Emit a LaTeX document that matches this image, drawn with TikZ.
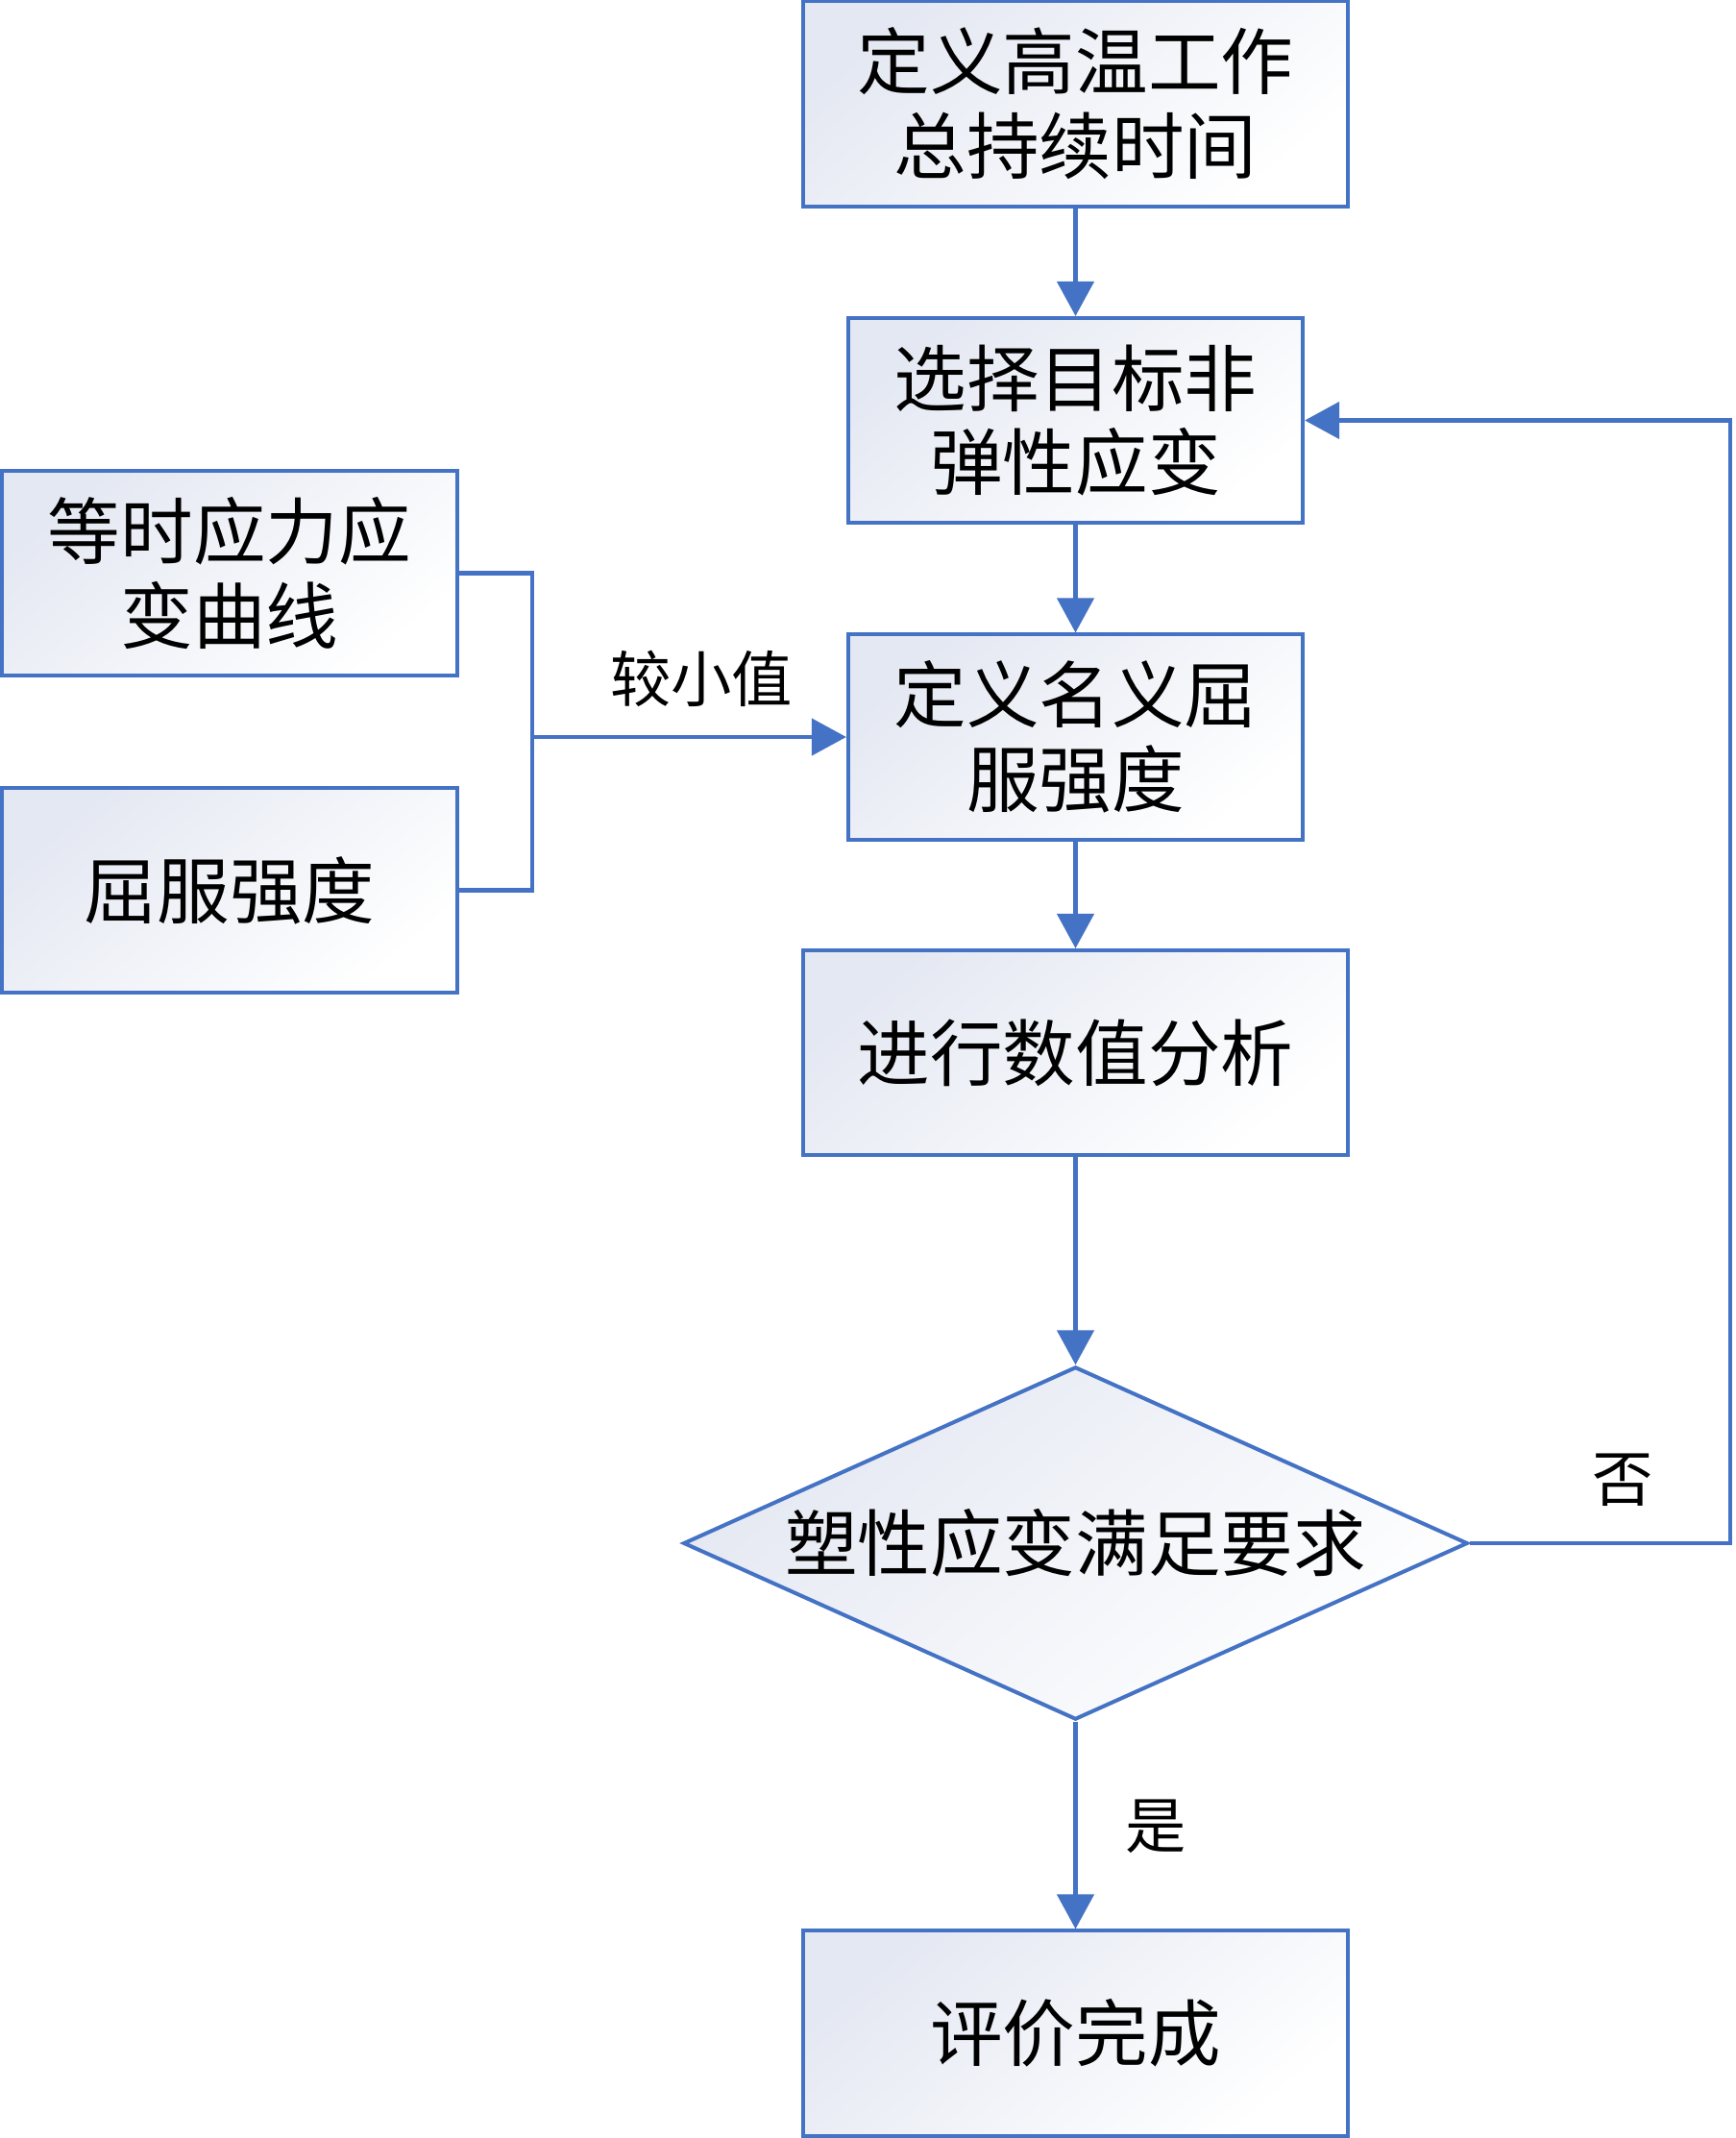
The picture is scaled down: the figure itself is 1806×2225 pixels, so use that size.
\documentclass[tikz,border=0pt]{standalone}
\usepackage{fontspec}
\setmainfont{Noto Sans CJK SC}
\usetikzlibrary{arrows.meta,shapes.geometric}
\definecolor{lineblue}{HTML}{4472C4}
\definecolor{boxgrad}{RGB}{228,232,242}
\tikzset{
  box/.style={draw=lineblue, line width=0.04cm, inner sep=0pt,
    top color=boxgrad, bottom color=white, shading angle=40,
    minimum height=2.13cm, align=center,
    font=\fontsize{21.5pt}{25pt}\selectfont},
  widebox/.style={box, minimum width=5.67cm},
  narrowbox/.style={box, minimum width=4.73cm},
  decision/.style={diamond, draw=lineblue, line width=0.04cm, inner sep=0pt,
    top color=boxgrad, bottom color=white, shading angle=40,
    aspect=2.22, minimum width=8.16cm, minimum height=3.67cm,
    font=\fontsize{21.5pt}{25pt}\selectfont},
  conn/.style={draw=lineblue, line width=0.045cm, line join=miter,
    -{Triangle[length=0.36cm,width=0.38cm]}},
  plain/.style={draw=lineblue, line width=0.045cm, line join=miter},
  lbl/.style={inner sep=0pt, font=\fontsize{18pt}{21pt}\selectfont}
}
\begin{document}
\begin{tikzpicture}[x=0.01cm,y=-0.01cm]
\useasboundingbox (0,0) rectangle (1806,2225);
\node[widebox]   (A)  at (1119.5,108)   {定义高温工作\\总持续时间};
\node[narrowbox] (B)  at (1119.5,437.5) {选择目标非\\弹性应变};
\node[narrowbox] (C)  at (1119.5,767)   {定义名义屈\\服强度};
\node[widebox]   (D)  at (1119.5,1095.5){进行数值分析};
\node[decision]  (Q)  at (1119.5,1606)  {塑性应变满足要求};
\node[widebox]   (E)  at (1119.5,2116)  {评价完成};
\node[narrowbox] (L1) at (239,596.5)    {等时应力应\\变曲线};
\node[narrowbox] (L2) at (239,926.5)    {屈服强度};

\coordinate (j) at (554,767);
\coordinate (lp) at (1801,1606);

\draw[conn] (A) -- (B);
\draw[conn] (B) -- (C);
\draw[conn] (C) -- (D);
\draw[conn] (D) -- (Q.north);
\draw[conn] (Q.south) -- (E);
\draw[plain] (L1.east) -| (j) |- (L2.east);
\draw[conn] (j) -- (C.west);
\draw[conn] (Q.east) -- (lp) |- (B.east);

\node[lbl] (t1) at (730,706)   {较小值};
\node[lbl] (t2) at (1689,1540) {否};
\node[lbl] (t3) at (1203,1901) {是};
\end{tikzpicture}
\end{document}
